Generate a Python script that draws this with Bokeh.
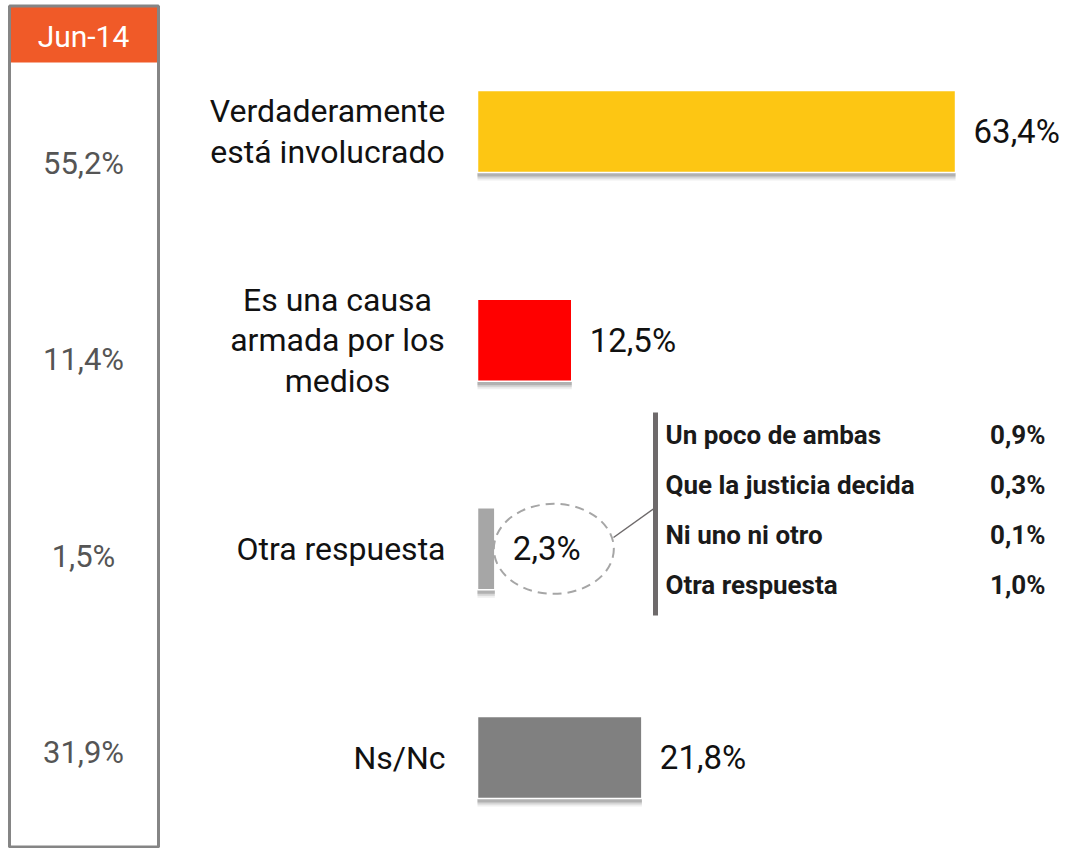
from bokeh.plotting import figure
from bokeh.models import Range1d
from bokeh.core.properties import value
from bokeh.embed import file_html
from bokeh.resources import INLINE

# ---------------- data ----------------
categories = ["Verdaderamente\nestá involucrado",
              "Es una causa\narmada por los\nmedios",
              "Otra respuesta",
              "Ns/Nc"]
values = [63.4, 12.5, 2.3, 21.8]
prev_period = "Jun-14"
prev_values = [55.2, 11.4, 1.5, 31.9]
detail_items = ["Un poco de ambas", "Que la justicia decida", "Ni uno ni otro", "Otra respuesta"]
detail_values = [0.9, 0.3, 0.1, 1.0]
detail_of = 2  # category index that is broken down

# ---------------- style / layout ----------------
bar_colors = ["#FDC613", "#FF0000", "#A6A6A6", "#808080"]
label_centres = [327, 337, None, None]   # pixel centre of multi-line label blocks
FONT = value("Roboto")
W, H = 1072, 848
OX, OY = 0, 0
PX0, SX = 477.0, 7.54     # pixel of 0 %, pixels per %
PY0, SY = 131.0, 208.67   # pixel of first category centre, pixels per category


def pct(v):
    return f"{v:.1f}%".replace(".", ",")


def xd(px):
    return (px - PX0) / SX


def yd(py):
    return (py - PY0) / SY


p = figure(width=W, height=H,
           x_range=Range1d(xd(OX), xd(OX + W)),
           y_range=Range1d(yd(OY + H), yd(OY)),
           x_axis_type=None, y_axis_type=None,
           output_backend="svg", toolbar_location=None, min_border=0)
p.xgrid.visible = False
p.ygrid.visible = False
p.outline_line_color = None
p.background_fill_color = "white"
p.border_fill_color = "white"

idx = list(range(len(values)))
BAR_H = 82 / SY

# bar shadows
for off, alpha in [(8, 0.10), (6, 0.18), (4, 0.30)]:
    p.hbar(y=[i + off / SY for i in idx], left=0, right=values, height=BAR_H,
           fill_color="#606060", fill_alpha=alpha, line_color=None)

# bars
p.hbar(y=idx, left=0, right=values, height=BAR_H,
       fill_color=bar_colors, line_color="white", line_width=1.5)

# value labels
p.text(x=values, y=idx, text=[pct(v) for v in values], x_offset=18,
       text_baseline="middle", text_align="left", text_font=FONT,
       text_font_size="33px", text_color="#111111")

# category labels (lines centred inside a right-aligned block)
label_right = 445
line_gap = 40.5 / SY
for i, cat in enumerate(categories):
    lines = cat.split("\n")
    n = len(lines)
    if n == 1:
        p.text(x=[xd(label_right)], y=[i], text=lines, text_align="right",
               text_baseline="middle", text_font=FONT, text_font_size="32px",
               text_color="#111111")
    else:
        cx = xd(label_centres[i])
        ys = [i + (j - (n - 1) / 2) * line_gap for j in range(n)]
        p.text(x=[cx] * n, y=ys, text=lines, text_align="center",
               text_baseline="middle", text_font=FONT, text_font_size="32px",
               text_color="#111111")

# ---------------- left panel (previous wave) ----------------
p.quad(left=xd(9.5), right=xd(157), top=yd(6), bottom=yd(62),
       fill_color="#F05A28", line_color=None)
p.quad(left=xd(9), right=xd(158), top=yd(5.5), bottom=yd(846.5),
       fill_color=None, line_color="#858585", line_width=3)
p.text(x=[xd(83)], y=[yd(36)], text=[prev_period], text_align="center",
       text_baseline="middle", text_font=FONT, text_font_size="30px",
       text_color="white")
p.text(x=[xd(83)] * len(prev_values),
       y=[yd(163 + 196.3 * i) for i in range(len(prev_values))],
       text=[pct(v) for v in prev_values], text_align="center",
       text_baseline="middle", text_font=FONT, text_font_size="31px",
       text_color="#555555")

# ---------------- breakdown of "Otra respuesta" ----------------
ev = values[detail_of]
p.ellipse(x=[ev + 59 / SX], y=[detail_of], width=120 / SX, height=90 / SY,
          fill_color=None, line_color="#A6A6A6", line_width=2, line_dash="9 6")
p.segment(x0=[xd(613)], y0=[yd(537)], x1=[xd(655)], y1=[yd(507)],
          line_color="#6E6A6B", line_width=1.5)
p.segment(x0=[xd(655)], y0=[yd(412)], x1=[xd(655)], y1=[yd(615)],
          line_color="#6E6A6B", line_width=5)
dy = [yd(434 + 50 * k) for k in range(len(detail_items))]
p.text(x=[xd(665)] * len(detail_items), y=dy, text=detail_items,
       text_align="left", text_baseline="middle", text_font=FONT,
       text_font_size="26px", text_font_style="bold", text_color="#1a1a1a")
p.text(x=[xd(1045)] * len(detail_values), y=dy,
       text=[pct(v) for v in detail_values],
       text_align="right", text_baseline="middle", text_font=FONT,
       text_font_size="26px", text_font_style="bold", text_color="#1a1a1a")

open("out.html", "w").write(file_html(p, INLINE))
